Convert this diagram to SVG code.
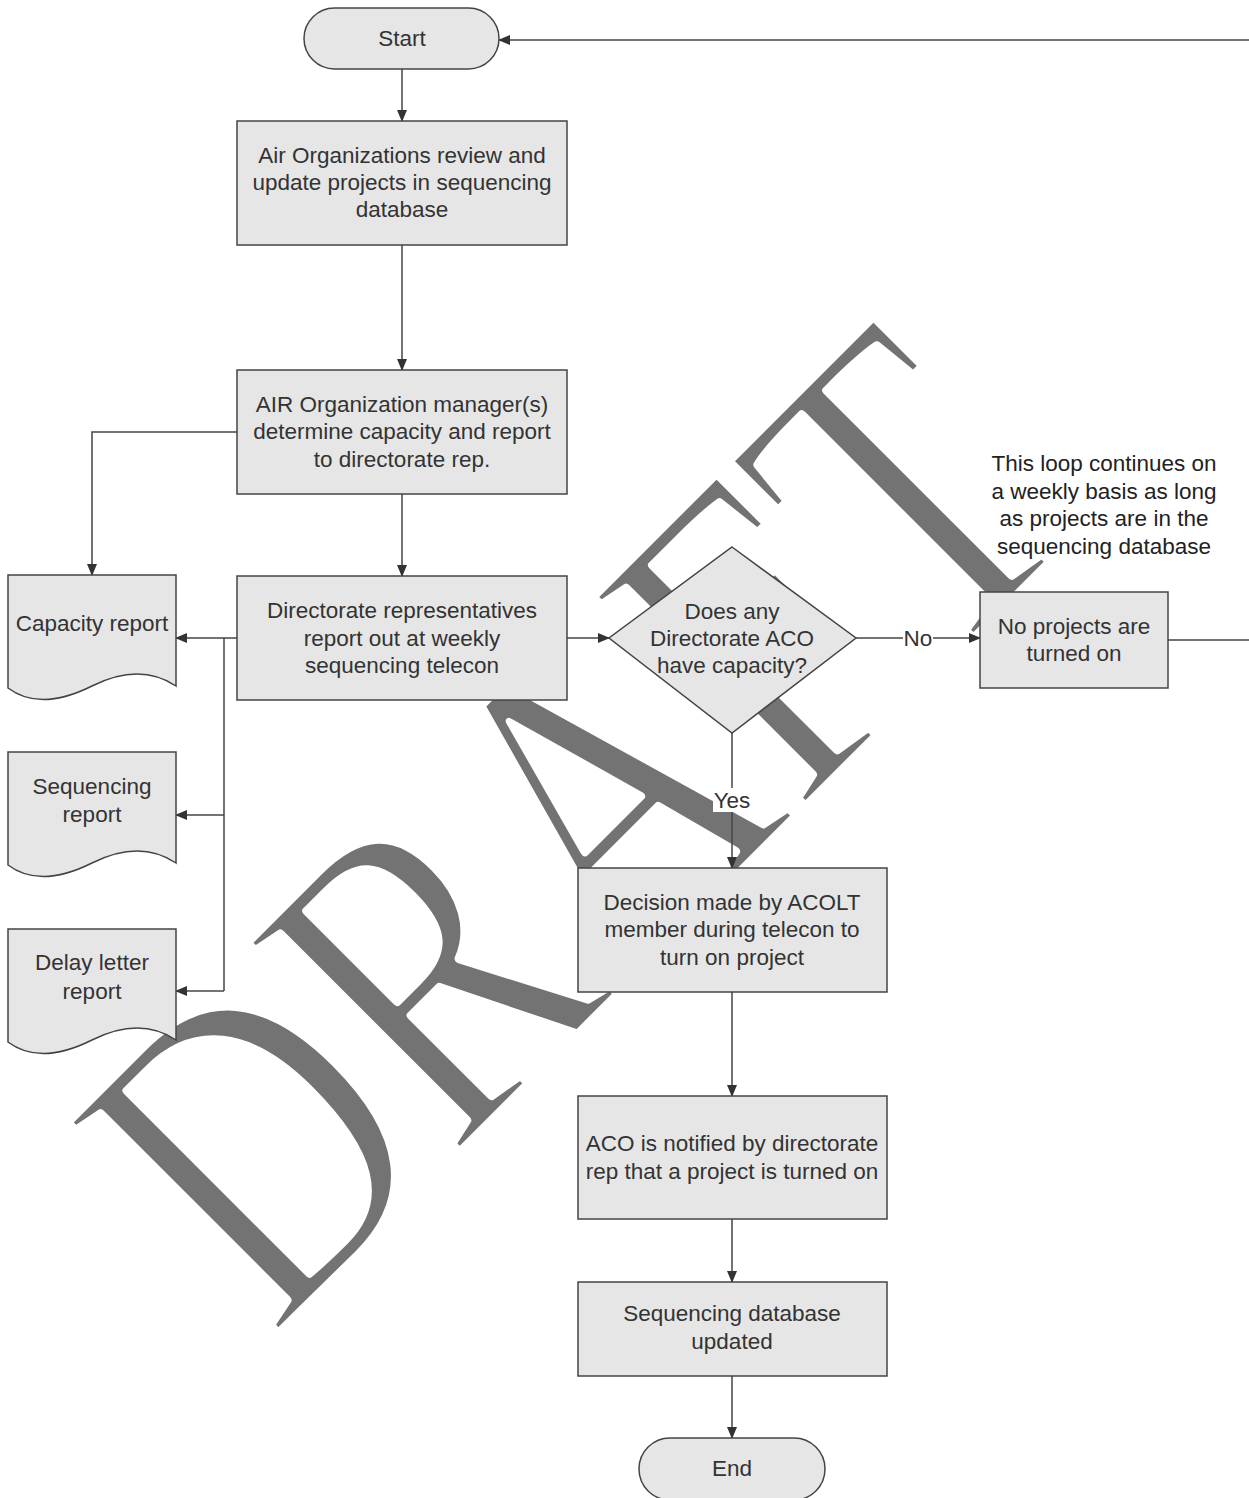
<svg xmlns="http://www.w3.org/2000/svg" width="1249" height="1498" viewBox="0 0 1249 1498">
<defs>
<marker id="arr" markerWidth="12" markerHeight="10" refX="11" refY="5" orient="auto" markerUnits="userSpaceOnUse">
<path d="M0,0 L12,5 L0,10 Z" fill="#333"/>
</marker>
<style>
.n{fill:#e6e6e6;stroke:#444;stroke-width:1.5}
.t{font-family:"Liberation Sans",Arial,sans-serif;font-size:22.5px;fill:#333;text-anchor:middle}
.c{fill:none;stroke:#444;stroke-width:1.5}
.a{marker-end:url(#arr)}
.wm{font-family:"Liberation Serif","Times New Roman",serif;font-size:400px;fill:#737373;stroke:#fff;stroke-width:8;stroke-linejoin:round}
</style>
</defs>
<rect width="1249" height="1498" fill="#fff"/>
<g id="watermark">
<text class="wm" transform="translate(272,1340) rotate(-45) scale(0.88,1.14)" x="0" y="0">DRAFT</text>
</g>
<g id="connectors">
<path class="c a" d="M402,69 V121"/>
<path class="c a" d="M402,245 V370"/>
<path class="c a" d="M237,432 H92 V575"/>
<path class="c a" d="M402,494 V576"/>
<path class="c a" d="M237,638 H176"/>
<path class="c" d="M224,638 V991"/>
<path class="c a" d="M224,815 H176"/>
<path class="c a" d="M224,991 H176"/>
<path class="c a" d="M567,638 H609"/>
<path class="c a" d="M856,638 H980"/>
<path class="c a" d="M732,733 V868"/>
<path class="c a" d="M1168,640 H1253 V40 H499"/>
<path class="c a" d="M732,992 V1096"/>
<path class="c a" d="M732,1219 V1282"/>
<path class="c a" d="M732,1376 V1438"/>
<rect x="903" y="626" width="30" height="24" fill="#fff"/>
<text class="t" x="918" y="646">No</text>
<rect x="713" y="788" width="38" height="24" fill="#fff"/>
<text class="t" x="732" y="808">Yes</text>
</g>
<g id="start">
<rect class="n" x="304" y="8" width="195" height="61" rx="30.5"/>
<text class="t" x="402" y="46">Start</text>
</g>
<g id="review">
<rect class="n" x="237" y="121" width="330" height="124"/>
<text class="t" x="402" y="163">Air Organizations review and</text>
<text class="t" x="402" y="190">update projects in sequencing</text>
<text class="t" x="402" y="217">database</text>
</g>
<g id="capacity">
<rect class="n" x="237" y="370" width="330" height="124"/>
<text class="t" x="402" y="412">AIR Organization manager(s)</text>
<text class="t" x="402" y="439">determine capacity and report</text>
<text class="t" x="402" y="467">to directorate rep.</text>
</g>
<g id="directorate">
<rect class="n" x="237" y="576" width="330" height="124"/>
<text class="t" x="402" y="618">Directorate representatives</text>
<text class="t" x="402" y="646">report out at weekly</text>
<text class="t" x="402" y="673">sequencing telecon</text>
</g>
<g id="capacity-report">
<path class="n" d="M8,575 H176 V686 Q140,662 92,686 Q40,712 8,688 Z"/>
<text class="t" x="92" y="631">Capacity report</text>
</g>
<g id="sequencing-report">
<path class="n" d="M8,752 H176 V863 Q140,839 92,863 Q40,889 8,865 Z"/>
<text class="t" x="92" y="794">Sequencing</text>
<text class="t" x="92" y="822">report</text>
</g>
<g id="delay-report">
<path class="n" d="M8,929 H176 V1040 Q140,1016 92,1040 Q40,1066 8,1042 Z"/>
<text class="t" x="92" y="970">Delay letter</text>
<text class="t" x="92" y="999">report</text>
</g>
<g id="decision">
<path class="n" d="M732,547 L856,638 L732,733 L609,638 Z"/>
<text class="t" x="732" y="619">Does any</text>
<text class="t" x="732" y="646">Directorate ACO</text>
<text class="t" x="732" y="673">have capacity?</text>
</g>
<g id="no-projects">
<rect class="n" x="980" y="592" width="188" height="96"/>
<text class="t" x="1074" y="634">No projects are</text>
<text class="t" x="1074" y="661">turned on</text>
</g>
<g id="note">
<text class="t" x="1104" y="471" style="fill:#222">This loop continues on</text>
<text class="t" x="1104" y="499" style="fill:#222">a weekly basis as long</text>
<text class="t" x="1104" y="526" style="fill:#222">as projects are in the</text>
<text class="t" x="1104" y="554" style="fill:#222">sequencing database</text>
</g>
<g id="acolt">
<rect class="n" x="578" y="868" width="309" height="124"/>
<text class="t" x="732" y="910">Decision made by ACOLT</text>
<text class="t" x="732" y="937">member during telecon to</text>
<text class="t" x="732" y="965">turn on project</text>
</g>
<g id="notify">
<rect class="n" x="578" y="1096" width="309" height="123"/>
<text class="t" x="732" y="1151">ACO is notified by directorate</text>
<text class="t" x="732" y="1179">rep that a project is turned on</text>
</g>
<g id="db-updated">
<rect class="n" x="578" y="1282" width="309" height="94"/>
<text class="t" x="732" y="1321">Sequencing database</text>
<text class="t" x="732" y="1349">updated</text>
</g>
<g id="end">
<rect class="n" x="639" y="1438" width="186" height="62" rx="31"/>
<text class="t" x="732" y="1476">End</text>
</g>
</svg>
